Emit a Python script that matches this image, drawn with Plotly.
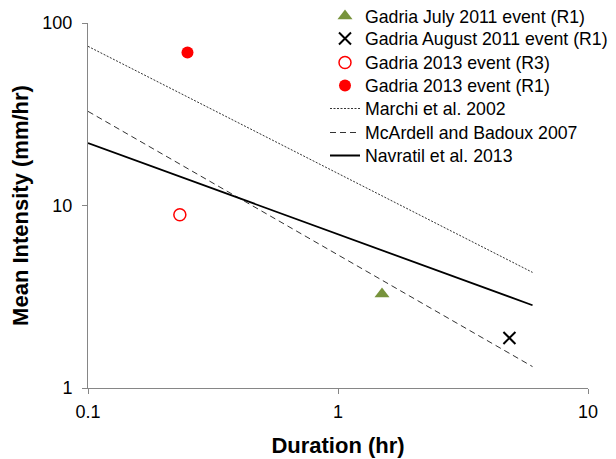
import plotly.graph_objects as go

# Observed events
july_x = [1.5]
july_y = [3.27]
aug_x = [4.85]
aug_y = [1.88]
r3_x = [0.233]
r3_y = [8.9]
r1_x = [0.25]
r1_y = [69]

# Threshold lines (endpoints)
line_x = [0.1, 6]
marchi_y = [74.5, 4.3]
mcardell_y = [32.8, 1.31]
navratil_y = [22.0, 2.84]

x_ticks = [0.1, 1, 10]
x_ticktext = ["0.1", "1", "10"]
y_ticks = [1, 10, 100]
y_ticktext = ["1", "10", "100"]

fig = go.Figure()
fig.add_trace(go.Scatter(x=july_x, y=july_y, mode="markers", name="Gadria July 2011 event (R1)",
                         legend="legend",
                         marker=dict(symbol="triangle-up", size=13, color="#77933C")))
fig.add_trace(go.Scatter(x=aug_x, y=aug_y, mode="markers", name="Gadria August 2011 event (R1)",
                         legend="legend2",
                         marker=dict(symbol="x-thin", size=12, color="black",
                                     line=dict(width=2, color="black"))))
fig.add_trace(go.Scatter(x=r3_x, y=r3_y, mode="markers", name="Gadria 2013 event (R3)",
                         legend="legend3",
                         marker=dict(symbol="circle-open", size=12, color="#FF0000",
                                     line=dict(width=1.5, color="#FF0000"))))
fig.add_trace(go.Scatter(x=r1_x, y=r1_y, mode="markers", name="Gadria 2013 event (R1)",
                         legend="legend4",
                         marker=dict(symbol="circle", size=12, color="#FF0000")))
fig.add_trace(go.Scatter(x=line_x, y=marchi_y, mode="lines", name="Marchi et al. 2002",
                         legend="legend5",
                         line=dict(color="#333333", width=1, dash="2px,1.5px")))
fig.add_trace(go.Scatter(x=line_x, y=mcardell_y, mode="lines", name="McArdell and Badoux 2007",
                         legend="legend6",
                         line=dict(color="#333333", width=1, dash="6px,4px")))
fig.add_trace(go.Scatter(x=line_x, y=navratil_y, mode="lines", name="Navratil et al. 2013",
                         legend="legend7",
                         line=dict(color="black", width=1.8)))

axis_common = dict(showgrid=False, zeroline=False, showline=True, linecolor="#868686",
                   linewidth=1, ticks="outside", tickcolor="#868686", ticklen=5,
                   tickfont=dict(size=18, color="black"), mirror=False)

fig.update_xaxes(type="log", range=[-1, 1], tickvals=x_ticks, ticktext=x_ticktext,
                 ticklabelstandoff=2,
                 title=dict(text="<b>Duration (hr)</b>", font=dict(size=22, color="black"), standoff=17),
                 **axis_common)
fig.update_yaxes(type="log", range=[0, 2], tickvals=y_ticks, ticktext=y_ticktext,
                 ticklabelstandoff=6,
                 title=dict(text="<b>Mean Intensity (mm/hr)</b>", font=dict(size=22, color="black"), standoff=10),
                 **axis_common)

# legend row centres (page pixels) -> paper coords relative to plot area
plot_top_page = 23.0
plot_h = 365.0
row_centres = [16.5, 39, 63, 86, 109, 133, 156]
legend_common = dict(x=0.474, xanchor="left", yanchor="middle",
                     font=dict(size=17.7, color="black"), bgcolor="rgba(0,0,0,0)",
                     itemwidth=30)
legends = {}
for i, yc in enumerate(row_centres):
    key = "legend" if i == 0 else f"legend{i+1}"
    legends[key] = dict(y=1 - (yc - plot_top_page) / plot_h, **legend_common)

fig.update_layout(
    width=608, height=451,
    margin=dict(l=80, r=28, t=15, b=71, autoexpand=False),
    plot_bgcolor="white", paper_bgcolor="white",
    font=dict(family="Liberation Sans, Arial, sans-serif", color="black"),
    showlegend=True,
    **legends,
)

fig.write_html("out.html")
